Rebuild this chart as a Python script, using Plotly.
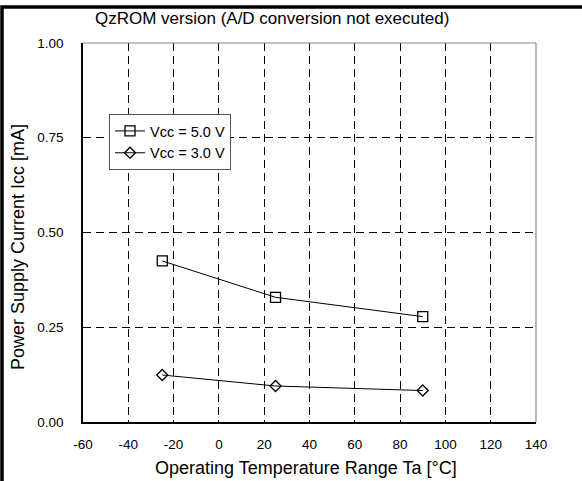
import plotly.graph_objects as go

temps = [-25, 25, 90]
icc_5v = [0.425, 0.329, 0.278]
icc_3v = [0.124, 0.095, 0.083]
series_names = ["Vcc = 5.0 V", "Vcc = 3.0 V"]
x_ticks = [-60, -40, -20, 0, 20, 40, 60, 80, 100, 120, 140]
y_ticks = [0.0, 0.25, 0.5, 0.75, 1.0]

FONT = "Liberation Sans, Arial, sans-serif"

fig = go.Figure()
fig.add_trace(go.Scatter(
    x=temps, y=icc_5v, name=series_names[0], mode="lines+markers",
    line=dict(color="black", width=1),
    marker=dict(symbol="square-open", size=10, color="black", line=dict(width=1.3)),
))
fig.add_trace(go.Scatter(
    x=temps, y=icc_3v, name=series_names[1], mode="lines+markers",
    line=dict(color="black", width=1),
    marker=dict(symbol="diamond-open", size=8.5, color="black", line=dict(width=1.3)),
))

L, R, T, B = 83, 46, 43, 59
W, H = 582, 481
pw, ph = W - L - R, H - T - B

def px_x(p):
    return (p - L) / pw

def px_y(p):
    return (H - B - p) / ph

fig.update_layout(
    width=W, height=H,
    margin=dict(l=L, r=R, t=T, b=B, pad=0),
    paper_bgcolor="white", plot_bgcolor="white",
    font=dict(family=FONT, size=13.5, color="black"),
    showlegend=True,
    legend=dict(
        x=px_x(109), y=px_y(114), xanchor="left", yanchor="top",
        bgcolor="white", bordercolor="#555555", borderwidth=1,
        font=dict(size=14.5), tracegroupgap=0, itemwidth=30,
    ),
    xaxis=dict(
        range=[-60, 140], tickvals=x_ticks, ticktext=[str(v) for v in x_ticks],
        showgrid=True, gridcolor="black", gridwidth=1, griddash="8px,5px",
        showline=True, linecolor="black", linewidth=1.5, mirror=False,
        ticks="", zeroline=False, ticklabelstandoff=9,
        tickfont=dict(size=13.5),
    ),
    yaxis=dict(
        range=[0, 1], tickvals=y_ticks, ticktext=[f"{v:.2f}" for v in y_ticks],
        showgrid=True, gridcolor="black", gridwidth=1, griddash="8px,5px",
        showline=True, linecolor="black", linewidth=1.5, mirror=False,
        ticks="", zeroline=False, ticklabelstandoff=15,
        tickfont=dict(size=13.5),
    ),
    shapes=[
        dict(type="line", xref="paper", yref="paper", x0=0, x1=1, y0=1, y1=1,
             line=dict(color="#888888", width=1.2)),
        dict(type="line", xref="paper", yref="paper", x0=1, x1=1, y0=0, y1=1,
             line=dict(color="#888888", width=1.2)),
        dict(type="rect", xref="paper", yref="paper", layer="above",
             x0=px_x(2), x1=px_x(700), y0=px_y(7), y1=px_y(700),
             line=dict(color="black", width=3.5), fillcolor="rgba(0,0,0,0)"),
    ],
    annotations=[
        dict(text="QzROM version (A/D conversion not executed)", xref="paper", yref="paper",
             x=px_x(272), y=px_y(18), xanchor="center", yanchor="middle",
             showarrow=False, font=dict(size=17)),
        dict(text="Operating Temperature Range Ta [°C]", xref="paper", yref="paper",
             x=px_x(306), y=px_y(468), xanchor="center", yanchor="middle",
             showarrow=False, font=dict(size=18)),
        dict(text="Power Supply Current Icc [mA]", xref="paper", yref="paper",
             x=px_x(18), y=px_y(247), xanchor="center", yanchor="middle",
             textangle=-90, showarrow=False, font=dict(size=18)),
    ],
)

fig.write_html(
    "out.html",
    config={"displayModeBar": False},
    post_script="document.body.style.margin='0';document.body.style.padding='0';"
                "document.body.style.overflow='hidden';",
)
